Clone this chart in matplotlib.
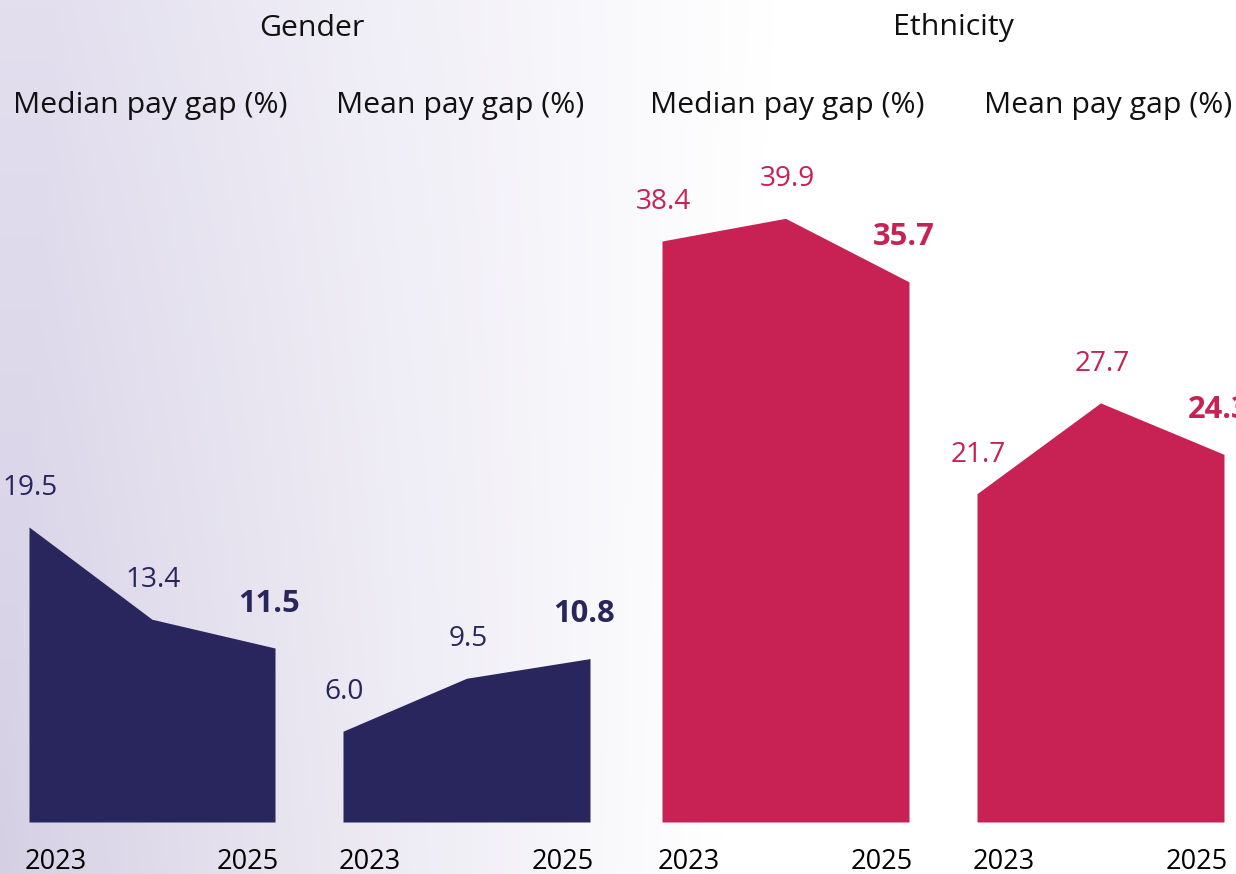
import numpy as np
import matplotlib
matplotlib.use("Agg")
import matplotlib.pyplot as plt

# ======================
# DATA
# ======================
years = [2023, 2024, 2025]
gender_median = [19.5, 13.4, 11.5]
gender_mean = [6.0, 9.5, 10.8]
ethnicity_median = [38.4, 39.9, 35.7]
ethnicity_mean = [21.7, 27.7, 24.3]

group_titles = ["Gender", "Ethnicity"]
panel_titles = ["Median pay gap (%)", "Mean pay gap (%)",
                "Median pay gap (%)", "Mean pay gap (%)"]

# ======================
# STYLE
# ======================
NAVY = "#29265d"
CRIMSON = "#c82153"
W, H = 1236, 874
plt.rcParams["font.family"] = ["Open Sans", "DejaVu Sans"]
FS_TITLE = 21.8
FS_VAL = 20.2
FS_BOLD = 22.2
FS_YEAR = 19.5

fig = plt.figure(figsize=(W / 100, H / 100), dpi=100)

# background gradient (lavender -> white)
bg = fig.add_axes([0, 0, 1, 1], zorder=-10)
xx, yy = np.meshgrid(np.linspace(0, 1, 400), np.linspace(0, 1, 300))
s = np.clip(xx / 0.58 - (1 - yy) * 0.08, 0, 1) ** 0.9
lav_top = np.array([0.89, 0.875, 0.937])
lav_bot = np.array([0.835, 0.812, 0.894])
lav = lav_top[None, None, :] * (1 - yy[..., None]) + lav_bot[None, None, :] * yy[..., None]
img = lav * (1 - s[..., None]) + 1.0 * s[..., None]
bg.imshow(img, aspect="auto", extent=[0, 1, 0, 1], origin="upper")
bg.axis("off")


def fx(px):
    return px / W


def fy(py):
    return 1 - py / H


# ======================
# PANELS
# ======================
panels = [
    (gender_median, NAVY, 29, 275),
    (gender_mean, NAVY, 343, 590),
    (ethnicity_median, CRIMSON, 662, 909),
    (ethnicity_mean, CRIMSON, 977, 1224),
]
top_px, base_px = 140, 822
px_per_unit = 15.13

for i, (vals, col, xl, xr) in enumerate(panels):
    ax = fig.add_axes([fx(xl), fy(base_px), (xr - xl) / W, (base_px - top_px) / H])
    ax.fill_between(years, vals, 0, color=col, linewidth=0)
    ax.set_xlim(years[0], years[-1])
    ax.set_ylim(0, (base_px - top_px) / px_per_unit)
    ax.axis("off")

    for j, (yr, v) in enumerate(zip(years, vals)):
        last = j == len(years) - 1
        if last:
            ax.annotate(f"{v:.1f}", (yr, v), xytext=(-4, 32), textcoords="offset points",
                        ha="center", va="center", fontsize=FS_BOLD, color=col,
                        fontweight="bold", annotation_clip=False)
        else:
            ax.annotate(f"{v:.1f}", (yr, v), xytext=(1, 28), textcoords="offset points",
                        ha="center", va="center", fontsize=FS_VAL, color=col,
                        annotation_clip=False)

    ax.annotate(str(years[0]), (years[0], 0), xytext=(-3, -29), textcoords="offset points",
                ha="left", va="center", fontsize=FS_YEAR, color="black", annotation_clip=False)
    ax.annotate(str(years[-1]), (years[-1], 0), xytext=(3, -29), textcoords="offset points",
                ha="right", va="center", fontsize=FS_YEAR, color="black", annotation_clip=False)

# ======================
# TITLES
# ======================
fig.text(fx(312), fy(28), group_titles[0], ha="center", va="center", fontsize=FS_TITLE, color="#111111")
fig.text(fx(953), fy(28), group_titles[1], ha="center", va="center", fontsize=FS_TITLE, color="#111111")
for (cx, t) in zip([150, 460, 787, 1108], panel_titles):
    fig.text(fx(cx), fy(106), t, ha="center", va="center", fontsize=FS_TITLE, color="#111111")

fig.savefig("out.png", dpi=100)
